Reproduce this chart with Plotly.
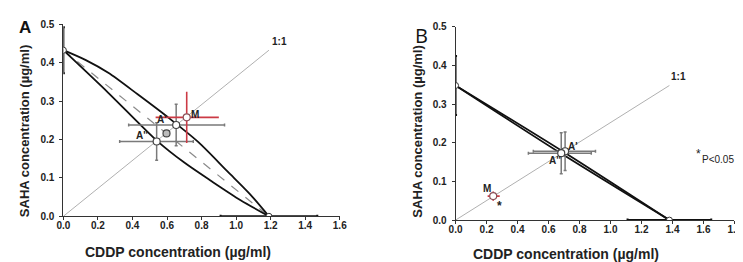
import plotly.graph_objects as go

# ---------------- Panel A data ----------------
a_upper_x = [0, 0.13, 0.26, 0.43, 0.6, 0.78, 0.95, 1.08, 1.19]
a_upper_y = [0.433, 0.407, 0.374, 0.318, 0.260, 0.194, 0.117, 0.058, 0]
a_lower_x = [0, 0.26, 0.544, 0.7, 0.856, 1.026, 1.19]
a_lower_y = [0.433, 0.322, 0.196, 0.140, 0.092, 0.042, 0]
a_add_x = [0, 1.19]
a_add_y = [0.433, 0]
a_ratio_x = [0, 1.19]
a_ratio_y = [0, 0.433]
a_int_x = [0, 1.19]
a_int_y = [0.433, 0]
a_int_ex = [0, 0.28]
a_int_ey = [0.06, 0]
a_pts_x = [0.653, 0.54]          # A', A''
a_pts_y = [0.238, 0.195]
a_pts_ex_minus = [0.275, 0.214]
a_pts_ex_plus = [0.28, 0.212]
a_pts_ey = [0.054, 0.049]
a_mid_x = [0.597]
a_mid_y = [0.216]
a_m_x = [0.714]
a_m_y = [0.258]
a_m_ex_minus = [0.18]
a_m_ex_plus = [0.186]
a_m_ey = [0.067]

# ---------------- Panel B data ----------------
b_upper_x = [0, 0.69, 1.38]
b_upper_y = [0.348, 0.178, 0]
b_lower_x = [0, 0.69, 1.38]
b_lower_y = [0.348, 0.170, 0]
b_ratio_x = [0, 1.38]
b_ratio_y = [0, 0.348]
b_int_x = [0, 1.38]
b_int_y = [0.348, 0]
b_int_ex = [0, 0.27]
b_int_ey = [0.076, 0]
b_pts_x = [0.707, 0.682]         # A', A''
b_pts_y = [0.178, 0.173]
b_pts_ex_minus = [0.205, 0.212]
b_pts_ex_plus = [0.196, 0.194]
b_pts_ey = [0.05, 0.053]
b_m_x = [0.243]
b_m_y = [0.062]
b_m_ex_minus = [0.036]
b_m_ex_plus = [0.042]
b_m_ey = [0.012]

x_ticks_a = [0, 0.2, 0.4, 0.6, 0.8, 1.0, 1.2, 1.4, 1.6]
x_ticks_b = [0, 0.2, 0.4, 0.6, 0.8, 1.0, 1.2, 1.4, 1.6, 1.8]
y_ticks = [0, 0.1, 0.2, 0.3, 0.4, 0.5]

FONT = "Liberation Sans"
RED = "#cc3a45"
GRAY_EB = "#7a7a7a"

fig = go.Figure()


def add_panel(xa, ya, upper, lower, ratio, intercept, pts, m, add=None, mid=None):
    fig.add_trace(go.Scatter(x=ratio[0], y=ratio[1], mode="lines",
                             line=dict(color="#b0b0b0", width=1),
                             xaxis=xa, yaxis=ya, hoverinfo="skip"))
    if add is not None:
        fig.add_trace(go.Scatter(x=add[0], y=add[1], mode="lines",
                                 line=dict(color="#8a8a8a", width=1.2, dash="dash"),
                                 xaxis=xa, yaxis=ya, hoverinfo="skip"))
    for cx, cy in (upper, lower):
        fig.add_trace(go.Scatter(x=cx, y=cy, mode="lines",
                                 line=dict(color="#111111", width=1.8, shape="spline", smoothing=0.8),
                                 xaxis=xa, yaxis=ya, hoverinfo="skip"))
    ix, iy, iex, iey = intercept
    fig.add_trace(go.Scatter(
        x=ix, y=iy, mode="markers",
        marker=dict(size=6, color="white", line=dict(color="#333333", width=1)),
        error_x=dict(type="data", array=iex, color="#111111", thickness=2, width=1.5),
        error_y=dict(type="data", array=iey, color="#111111", thickness=2, width=1.5),
        xaxis=xa, yaxis=ya, hoverinfo="skip"))
    px_, py_, pexm, pexp, pey = pts
    fig.add_trace(go.Scatter(
        x=px_, y=py_, mode="markers",
        marker=dict(size=7, color="white", line=dict(color="#444444", width=1.2)),
        error_x=dict(type="data", array=pexp, arrayminus=pexm, color=GRAY_EB, thickness=1.5, width=1.5),
        error_y=dict(type="data", array=pey, color=GRAY_EB, thickness=1.5, width=1.5),
        xaxis=xa, yaxis=ya, hoverinfo="skip"))
    if mid is not None:
        fig.add_trace(go.Scatter(
            x=mid[0], y=mid[1], mode="markers",
            marker=dict(size=7, color="#bbbbbb", line=dict(color="#444444", width=1.2)),
            xaxis=xa, yaxis=ya, hoverinfo="skip"))
    mx, my, mexm, mexp, mey = m
    fig.add_trace(go.Scatter(
        x=mx, y=my, mode="markers",
        marker=dict(size=7, color="white", line=dict(color="#8a5058", width=1.2)),
        error_x=dict(type="data", array=mexp, arrayminus=mexm, color=RED, thickness=1.6, width=0),
        error_y=dict(type="data", array=mey, color=RED, thickness=1.6, width=0),
        xaxis=xa, yaxis=ya, hoverinfo="skip"))


add_panel("x", "y",
          (a_upper_x, a_upper_y), (a_lower_x, a_lower_y),
          (a_ratio_x, a_ratio_y),
          (a_int_x, a_int_y, a_int_ex, a_int_ey),
          (a_pts_x, a_pts_y, a_pts_ex_minus, a_pts_ex_plus, a_pts_ey),
          (a_m_x, a_m_y, a_m_ex_minus, a_m_ex_plus, a_m_ey),
          add=(a_add_x, a_add_y), mid=(a_mid_x, a_mid_y))

add_panel("x2", "y2",
          (b_upper_x, b_upper_y), (b_lower_x, b_lower_y),
          (b_ratio_x, b_ratio_y),
          (b_int_x, b_int_y, b_int_ex, b_int_ey),
          (b_pts_x, b_pts_y, b_pts_ex_minus, b_pts_ex_plus, b_pts_ey),
          (b_m_x, b_m_y, b_m_ex_minus, b_m_ex_plus, b_m_ey))

W, H = 743, 262


def px(x):
    return x / W


def py(y):
    return 1 - y / H


axis_common = dict(showgrid=False, zeroline=False, showline=True, linecolor="#333333",
                   linewidth=1, ticks="outside", ticklen=3, tickcolor="#333333",
                   tickfont=dict(family=FONT, size=10, color="#222222", weight="bold"),
                   tickformat=".1f")

fig.update_layout(
    width=W, height=H,
    margin=dict(l=0, r=0, t=0, b=0),
    paper_bgcolor="white", plot_bgcolor="white",
    showlegend=False,
    xaxis=dict(domain=[px(49.3), px(331)], range=[0, 1.6], tickvals=x_ticks_a, anchor="y",
               ticklabelstandoff=-3, **axis_common),
    yaxis=dict(domain=[py(212), py(11)], range=[0, 0.5], tickvals=y_ticks, anchor="x",
               ticklabelstandoff=3, **axis_common),
    xaxis2=dict(domain=[px(449), px(733.3)], range=[0, 1.8], tickvals=x_ticks_b, anchor="y2",
                ticklabelstandoff=-3, **axis_common),
    yaxis2=dict(domain=[py(216), py(13.3)], range=[0, 0.5], tickvals=y_ticks, anchor="x2",
                ticklabelstandoff=3, **axis_common),
)


def note(text, x, y, size=10, bold=True, angle=0, color="#222222", xanchor="center", family=FONT):
    fig.add_annotation(text=text, x=px(x), y=py(y), xref="paper", yref="paper",
                       showarrow=False, textangle=angle, xanchor=xanchor, yanchor="middle",
                       borderpad=0,
                       font=dict(family=family, size=size, color=color,
                                 weight="bold" if bold else "normal"))


# Panel A texts
note("A", 10, 14, size=17, bold=True, color="#111111")
note("1:1", 270, 29, size=10)
note("M", 183, 105, size=10)
note("A'", 150, 111, size=10)
note("A''", 129, 127, size=10)
note("SAHA concentration (µg/ml)", 10, 123, size=13, angle=-90)
note("CDDP concentration (µg/ml)", 166.5, 249, size=14)

# Panel B texts
note("B", 414, 23, size=20, bold=False, color="#111111", family="Open Sans")
note("1:1", 676, 66, size=10)
note("A'", 569, 139, size=10)
note("A''", 550, 154, size=10)
note("M", 481, 183, size=10)
note("*", 494, 201, size=12)
note("*", 697, 147, size=12, bold=False)
note("P<0.05", 699, 152, size=10, bold=False, xanchor="left")
note("SAHA concentration (µg/ml)", 410, 123, size=13, angle=-90)
note("CDDP concentration (µg/ml)", 561.5, 252, size=14)

fig.write_html("out.html")
